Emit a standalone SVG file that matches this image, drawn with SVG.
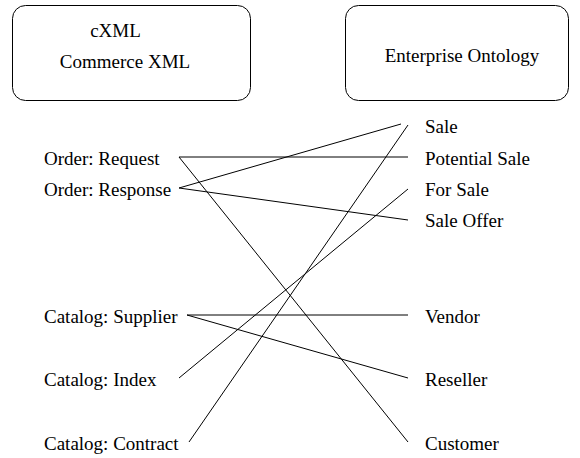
<svg xmlns="http://www.w3.org/2000/svg" width="580" height="458" viewBox="0 0 580 458">
  <style>
    .box { fill: #ffffff; stroke: #000000; stroke-width: 1; }
    text { font-family: "Liberation Serif", "Times New Roman", serif; font-size: 19px; fill: #000000; }
    .mid { text-anchor: middle; }
    .link { stroke: #000000; stroke-width: 1; fill: none; }
  </style>
  <rect width="580" height="458" fill="#ffffff"/>

  <!-- header boxes -->
  <g id="cxml">
    <rect class="box" x="12.5" y="5.5" width="238" height="95" rx="13" ry="13"/>
    <text class="mid" x="115.5" y="37">cXML</text>
    <text class="mid" x="125" y="68">Commerce XML</text>
  </g>
  <g id="enterprise-ontology">
    <rect class="box" x="345.5" y="5.5" width="223" height="95" rx="13" ry="13"/>
    <text class="mid" x="462" y="62">Enterprise Ontology</text>
  </g>

  <!-- cXML terms -->
  <g id="order-request"><text x="44" y="165">Order: Request</text></g>
  <g id="order-response"><text x="44" y="196">Order: Response</text></g>
  <g id="catalog-supplier"><text x="44" y="323">Catalog: Supplier</text></g>
  <g id="catalog-index"><text x="44" y="386">Catalog: Index</text></g>
  <g id="catalog-contract"><text x="44" y="450">Catalog: Contract</text></g>

  <!-- ontology terms -->
  <g id="sale"><text x="425" y="133">Sale</text></g>
  <g id="potential-sale"><text x="425" y="165">Potential Sale</text></g>
  <g id="for-sale"><text x="425" y="196">For Sale</text></g>
  <g id="sale-offer"><text x="425" y="227">Sale Offer</text></g>
  <g id="vendor"><text x="425" y="323">Vendor</text></g>
  <g id="reseller"><text x="425" y="386">Reseller</text></g>
  <g id="customer"><text x="425" y="450">Customer</text></g>

  <!-- mappings -->
  <g id="connectors" class="link">
    <line x1="179" y1="157" x2="408" y2="157"/>
    <line x1="179" y1="157" x2="408" y2="442"/>
    <line x1="179" y1="188" x2="401" y2="124"/>
    <line x1="179" y1="188" x2="408" y2="220"/>
    <line x1="187" y1="315" x2="408" y2="315"/>
    <line x1="187" y1="315" x2="408" y2="378"/>
    <line x1="179" y1="378" x2="408" y2="189"/>
    <line x1="189" y1="442" x2="408" y2="125"/>
  </g>
</svg>
